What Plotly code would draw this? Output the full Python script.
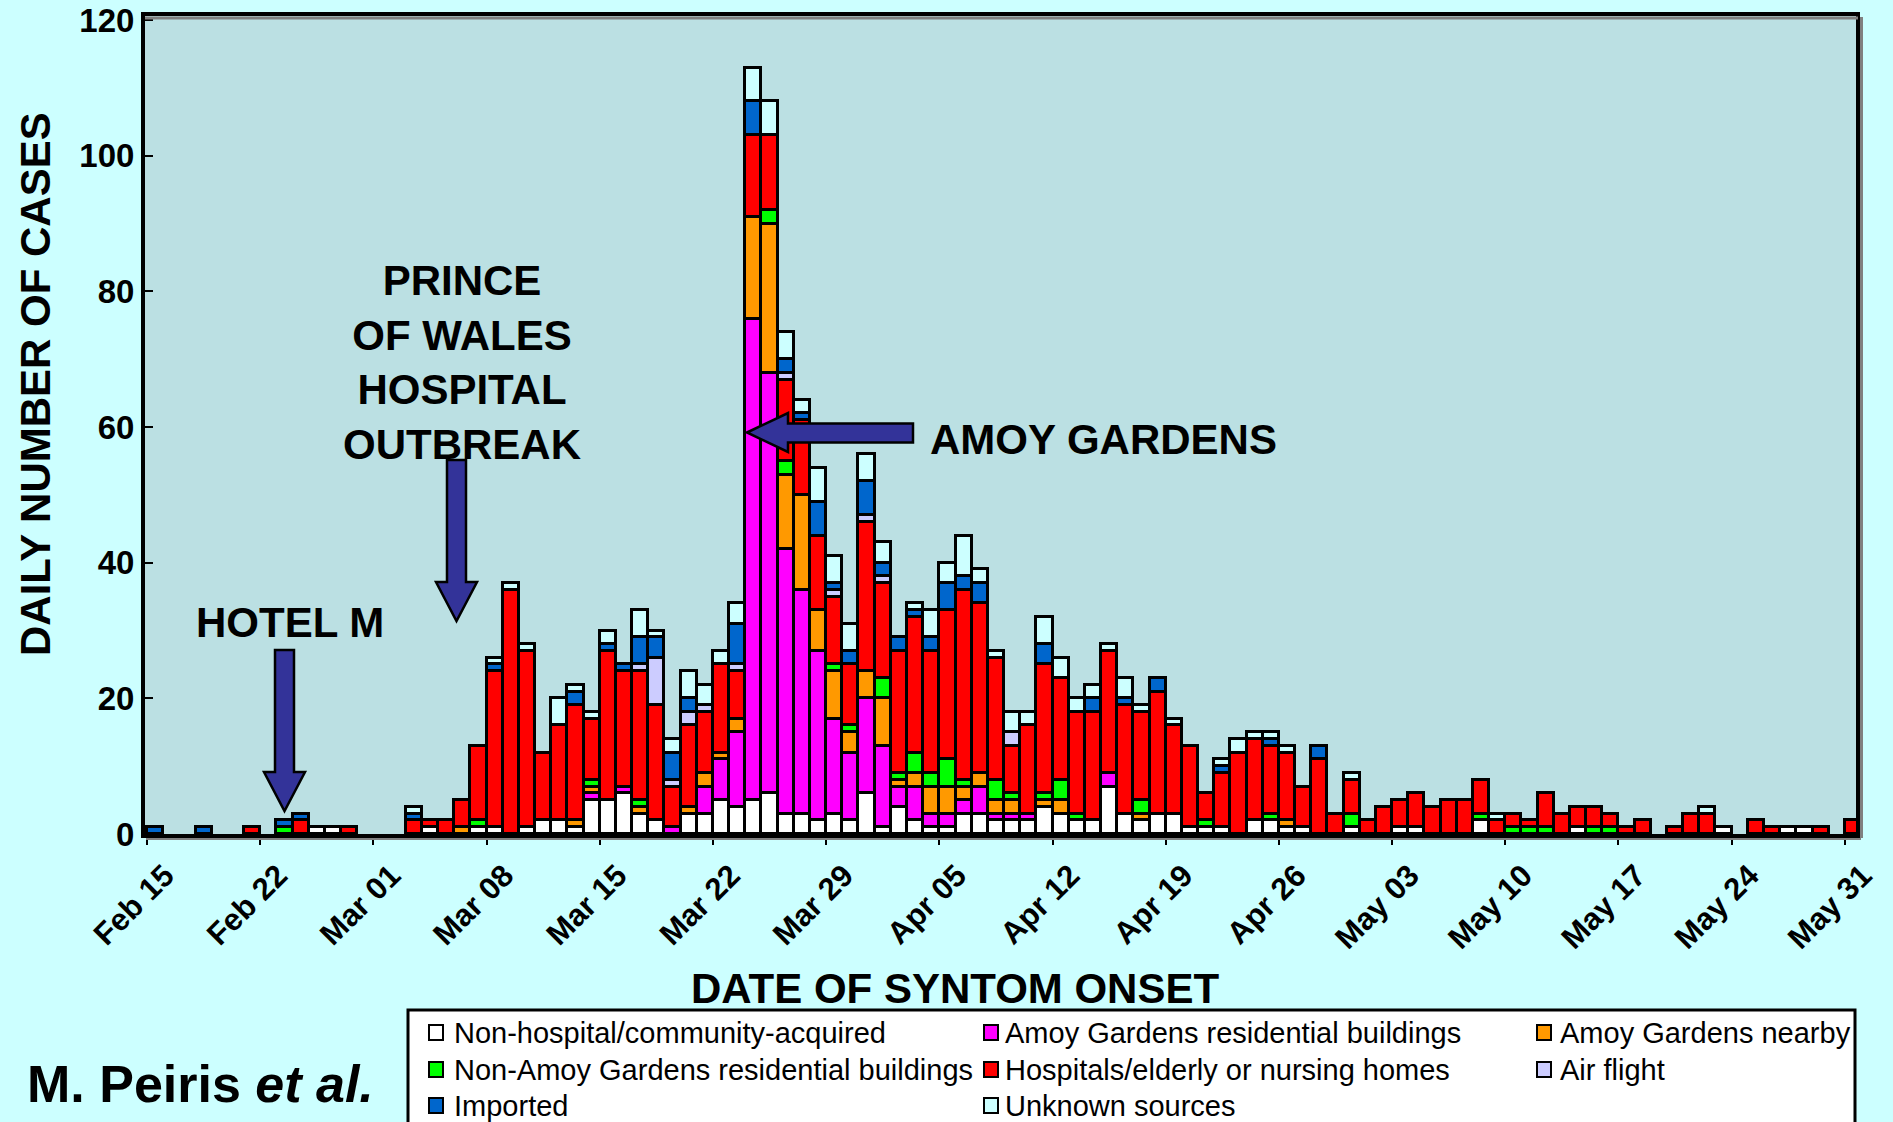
import pandas as pd
import plotly.graph_objects as go

# ---------------- data (day 0 = 2003-02-15 ... day 105 = 2003-05-31) ----------------
start_date = "2003-02-15"
n_days = 106
onset_dates = pd.date_range(start_date, periods=n_days, freq="D")

non_hospital = [
    0, 0, 0, 0, 0, 0, 0, 0, 0, 0,
    1, 1, 0, 0, 0, 0, 0, 1, 0, 0,
    1, 1, 0, 1, 2, 2, 1, 5, 5, 6,
    3, 2, 0, 3, 3, 5, 4, 5, 6, 3,
    3, 2, 3, 2, 6, 1, 4, 2, 1, 1,
    3, 3, 2, 2, 2, 4, 3, 2, 2, 7,
    3, 2, 3, 3, 1, 1, 1, 0, 2, 2,
    1, 1, 0, 0, 1, 0, 0, 1, 1, 0,
    0, 0, 2, 0, 0, 0, 0, 0, 1, 0,
    0, 0, 0, 0, 0, 0, 0, 1, 0, 0,
    0, 1, 1, 0, 0, 0,
]
amoy_residential = [
    0, 0, 0, 0, 0, 0, 0, 0, 0, 0,
    0, 0, 0, 0, 0, 0, 0, 0, 0, 0,
    0, 0, 0, 0, 0, 0, 0, 1, 0, 1,
    0, 0, 1, 0, 4, 6, 11, 71, 62, 39,
    33, 25, 14, 10, 14, 12, 3, 5, 2, 2,
    2, 4, 1, 1, 1, 0, 0, 0, 0, 2,
    0, 0, 0, 0, 0, 0, 0, 0, 0, 0,
    0, 0, 0, 0, 0, 0, 0, 0, 0, 0,
    0, 0, 0, 0, 0, 0, 0, 0, 0, 0,
    0, 0, 0, 0, 0, 0, 0, 0, 0, 0,
    0, 0, 0, 0, 0, 0,
]
amoy_nearby = [
    0, 0, 0, 0, 0, 0, 0, 0, 0, 0,
    0, 0, 0, 0, 0, 0, 0, 0, 0, 1,
    0, 0, 0, 0, 0, 0, 1, 1, 0, 0,
    1, 0, 0, 1, 2, 1, 2, 15, 22, 11,
    14, 6, 7, 3, 4, 7, 1, 2, 4, 4,
    2, 2, 2, 2, 0, 1, 2, 0, 0, 0,
    0, 1, 0, 0, 0, 0, 0, 0, 0, 0,
    1, 0, 0, 0, 0, 0, 0, 0, 0, 0,
    0, 0, 0, 0, 0, 0, 0, 0, 0, 0,
    0, 0, 0, 0, 0, 0, 0, 0, 0, 0,
    0, 0, 0, 0, 0, 0,
]
non_amoy_residential = [
    0, 0, 0, 0, 0, 0, 0, 0, 1, 0,
    0, 0, 0, 0, 0, 0, 0, 0, 0, 0,
    1, 0, 0, 0, 0, 0, 0, 1, 0, 0,
    1, 0, 0, 0, 0, 0, 0, 0, 2, 2,
    0, 0, 1, 1, 0, 3, 1, 3, 2, 4,
    1, 0, 3, 1, 0, 1, 3, 1, 0, 0,
    0, 2, 0, 0, 0, 1, 0, 0, 0, 1,
    0, 0, 0, 0, 2, 0, 0, 0, 0, 0,
    0, 0, 1, 0, 1, 1, 1, 0, 0, 1,
    1, 0, 0, 0, 0, 0, 0, 0, 0, 0,
    0, 0, 0, 0, 0, 0,
]
hospitals = [
    0, 0, 0, 0, 0, 0, 1, 0, 0, 2,
    0, 0, 1, 0, 0, 0, 2, 1, 2, 4,
    11, 23, 36, 26, 10, 14, 17, 9, 22, 17,
    19, 17, 6, 12, 9, 13, 7, 12, 11, 12,
    11, 11, 10, 9, 22, 14, 18, 20, 18, 22,
    28, 25, 18, 7, 13, 19, 15, 15, 16, 18,
    16, 13, 18, 13, 12, 4, 8, 12, 12, 10,
    10, 6, 11, 3, 5, 2, 4, 4, 5, 4,
    5, 5, 5, 2, 2, 1, 5, 3, 3, 3,
    2, 1, 2, 0, 1, 3, 3, 0, 0, 2,
    1, 0, 0, 1, 0, 2,
]
air_flight = [
    0, 0, 0, 0, 0, 0, 0, 0, 0, 0,
    0, 0, 0, 0, 0, 0, 0, 0, 0, 0,
    0, 0, 0, 0, 0, 0, 0, 0, 0, 0,
    1, 7, 1, 2, 1, 0, 1, 0, 0, 1,
    0, 0, 1, 0, 1, 1, 0, 0, 0, 0,
    0, 0, 0, 2, 0, 0, 0, 0, 0, 0,
    0, 0, 0, 0, 0, 0, 0, 0, 0, 0,
    0, 0, 0, 0, 0, 0, 0, 0, 0, 0,
    0, 0, 0, 0, 0, 0, 0, 0, 0, 0,
    0, 0, 0, 0, 0, 0, 0, 0, 0, 0,
    0, 0, 0, 0, 0, 0,
]
imported = [
    1, 0, 0, 1, 0, 0, 0, 0, 1, 1,
    0, 0, 0, 0, 0, 0, 1, 0, 0, 0,
    0, 1, 0, 0, 0, 0, 2, 0, 1, 1,
    4, 3, 4, 2, 0, 0, 6, 5, 0, 2,
    1, 5, 1, 2, 5, 2, 2, 1, 2, 4,
    2, 3, 0, 0, 0, 3, 0, 0, 2, 0,
    1, 0, 2, 0, 0, 0, 1, 0, 0, 1,
    0, 0, 2, 0, 0, 0, 0, 0, 0, 0,
    0, 0, 0, 0, 0, 0, 0, 0, 0, 0,
    0, 0, 0, 0, 0, 0, 0, 0, 0, 0,
    0, 0, 0, 0, 0, 0,
]
unknown = [
    0, 0, 0, 0, 0, 0, 0, 0, 0, 0,
    0, 0, 0, 0, 0, 0, 1, 0, 0, 0,
    0, 1, 1, 1, 0, 4, 1, 1, 2, 0,
    4, 1, 2, 4, 3, 2, 3, 5, 5, 4,
    2, 5, 4, 4, 4, 3, 0, 1, 4, 3,
    6, 2, 1, 3, 2, 4, 3, 2, 2, 1,
    3, 1, 0, 1, 0, 0, 1, 2, 1, 1,
    1, 0, 0, 0, 1, 0, 0, 0, 0, 0,
    0, 0, 0, 1, 0, 0, 0, 0, 0, 0,
    0, 0, 0, 0, 0, 0, 1, 0, 0, 0,
    0, 0, 0, 0, 0, 0,
]

series_names = [
    "Non-hospital/community-acquired",
    "Amoy Gardens residential buildings",
    "Amoy Gardens nearby",
    "Non-Amoy Gardens residential buildings",
    "Hospitals/elderly or nursing homes",
    "Air flight",
    "Imported",
    "Unknown sources",
]
series_values = [non_hospital, amoy_residential, amoy_nearby, non_amoy_residential,
                 hospitals, air_flight, imported, unknown]
series_colors = ["#FFFFFF", "#FF00FF", "#FF9900", "#00FF00",
                 "#FF0000", "#CCCCFF", "#0066CC", "#CCFFFF"]

y_ticks = [0, 20, 40, 60, 80, 100, 120]

# ---------------- layout geometry (pixels) ----------------
W, H = 1893, 1122
ML, MR, MT, MB = 145, 37, 16, 288
PW = W - ML - MR
PH = H - MT - MB


def px(x):
    return (x - ML) / PW


def py(y):
    return (H - MB - y) / PH


FONT = "Liberation Sans, Arial, Helvetica, sans-serif"
DAY_MS = 86400000
PAGE_BG = "#CCFFFF"

fig = go.Figure()
bar_x = onset_dates + pd.Timedelta(hours=12)
for name, vals, col in zip(series_names, series_values, series_colors):
    fig.add_trace(go.Bar(
        x=bar_x,
        y=[v if v else None for v in vals],
        name=name,
        width=DAY_MS,
        marker=dict(color=col, line=dict(color="black", width=2.6)),
        showlegend=False,
    ))

t0 = pd.Timestamp(start_date)
x_range = [t0 - pd.Timedelta(days=0.124), t0 + pd.Timedelta(days=105.69)]

shapes = []
annotations = []

# gray shadow lines of the frame
shapes.append(dict(type="line", xref="paper", yref="paper", x0=px(145), x1=px(1858),
                   y0=py(18), y1=py(18), line=dict(color="#808080", width=3), layer="above"))
shapes.append(dict(type="line", xref="paper", yref="paper", x0=px(1861.5), x1=px(1861.5),
                   y0=py(17), y1=py(838), line=dict(color="#808080", width=3), layer="above"))
shapes.append(dict(type="line", xref="paper", yref="paper", x0=px(146), x1=px(1861),
                   y0=py(839), y1=py(839), line=dict(color="#808080", width=2), layer="above"))


def arrow_path(points):
    return "M " + " L ".join(f"{px(x):.5f},{py(y):.5f}" for x, y in points) + " Z"


arrow_style = dict(type="path", xref="paper", yref="paper", fillcolor="#333399",
                   line=dict(color="black", width=2.5), layer="above")
# HOTEL M arrow (down)
shapes.append(dict(path=arrow_path([(275, 650), (294, 650), (294, 772), (305, 772),
                                    (284.5, 811), (264, 772), (275, 772)]), **arrow_style))
# Prince of Wales arrow (down)
shapes.append(dict(path=arrow_path([(447, 460), (466, 460), (466, 582), (477, 582),
                                    (456.5, 621), (436, 582), (447, 582)]), **arrow_style))
# Amoy Gardens arrow (left)
shapes.append(dict(path=arrow_path([(747, 432.5), (788, 413), (788, 423.5), (913, 423.5),
                                    (913, 442.5), (788, 442.5), (788, 452)]), **arrow_style))


def text_at(x, y, text, size, xanchor="center", textangle=0, weight="bold"):
    annotations.append(dict(
        xref="paper", yref="paper", x=px(x), y=py(y), text=text, showarrow=False,
        xanchor=xanchor, yanchor="middle", textangle=textangle,
        font=dict(family=FONT, size=size, color="black", weight=weight)))


text_at(290, 622, "HOTEL M", 42)
text_at(462, 362, "PRINCE<br>OF WALES<br>HOSPITAL<br>OUTBREAK", 42)
text_at(1103, 439, "AMOY GARDENS", 42)
text_at(36, 384, "DAILY NUMBER OF CASES", 42, textangle=-90)
text_at(955, 988, "DATE OF SYNTOM ONSET", 42)
text_at(200, 1084, "M. Peiris <i>et al.</i>", 52)

# manual legend (3 columns, filled row by row)
shapes.append(dict(type="rect", xref="paper", yref="paper", x0=px(408), x1=px(1855),
                   y0=py(1010), y1=py(1135), fillcolor="white",
                   line=dict(color="black", width=3), layer="above"))
col_sq = [429, 984, 1537]
col_tx = [452, 1003, 1558]
row_y = [1033, 1070, 1106]
for i, (name, col) in enumerate(zip(series_names, series_colors)):
    r, c = divmod(i, 3)
    x0, yc = col_sq[c], row_y[r]
    shapes.append(dict(type="rect", xref="paper", yref="paper", x0=px(x0), x1=px(x0 + 14),
                       y0=py(yc - 8), y1=py(yc + 7), fillcolor=col,
                       line=dict(color="black", width=2), layer="above"))
    text_at(col_tx[c], yc, name, 29, xanchor="left", weight="normal")

fig.update_layout(
    width=W, height=H,
    margin=dict(l=ML, r=MR, t=MT, b=MB, autoexpand=False),
    template="none",
    paper_bgcolor=PAGE_BG,
    plot_bgcolor="#BBE0E3",
    barmode="stack",
    bargap=0,
    font=dict(family=FONT, color="black"),
    showlegend=False,
    shapes=shapes,
    annotations=annotations,
    xaxis=dict(
        type="date", range=x_range, tick0=start_date, dtick=7 * DAY_MS,
        tickformat="%b %d", tickangle=-45,
        tickfont=dict(family=FONT, size=31, color="black", weight="bold"),
        ticks="outside", ticklen=7, tickwidth=2, tickcolor="black",
        showline=True, linecolor="black", linewidth=4, mirror=True,
        showgrid=False, zeroline=False, automargin=False, ticklabelshift=18,
    ),
    yaxis=dict(
        range=[0, 120.6], tickvals=y_ticks,
        tickfont=dict(family=FONT, size=33, color="black", weight="bold"),
        ticks="inside", ticklen=8, tickwidth=2, tickcolor="black",
        showline=True, linecolor="black", linewidth=4, mirror=True,
        showgrid=False, zeroline=False, automargin=False,
    ),
)

page_css = ("document.body.style.margin='0px';"
            "document.body.style.padding='0px';"
            "document.body.style.overflow='hidden';"
            "document.body.style.backgroundColor='" + PAGE_BG + "';")
fig.write_html("out.html", post_script=page_css, config={"displayModeBar": False})
